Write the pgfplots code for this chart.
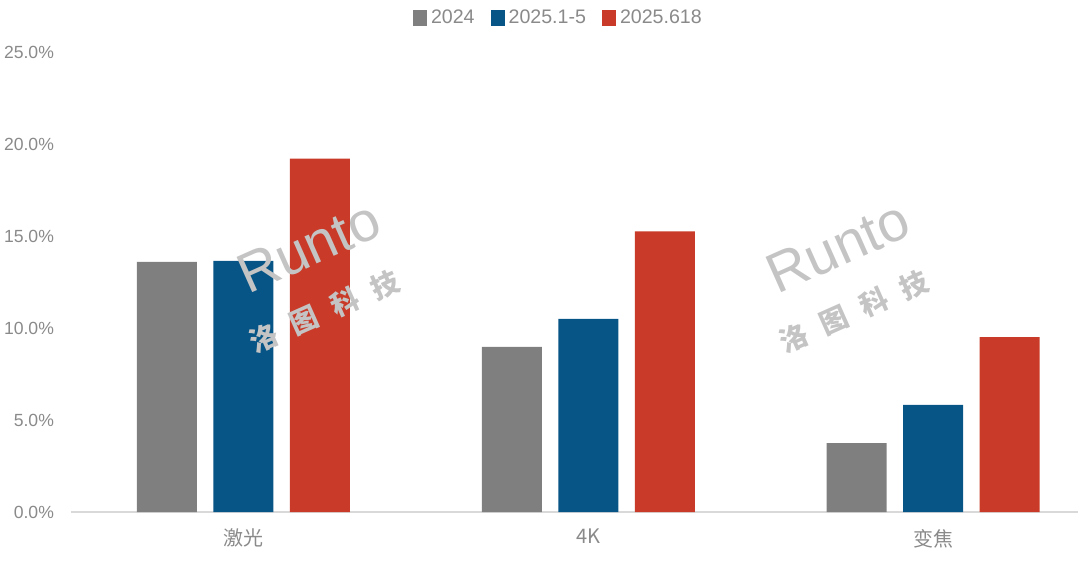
\documentclass[border=0pt]{standalone}
\usepackage{pgfplots}
\pgfplotsset{compat=1.18}
\usepackage{fontspec}
\setmainfont{Liberation Sans}
\newfontfamily\cjk{Noto Sans CJK SC}

\definecolor{cgray}{HTML}{7F7F7F}
\definecolor{cblue}{HTML}{065586}
\definecolor{cred}{HTML}{C93A28}
\definecolor{txt}{HTML}{8A8A8A}
\definecolor{baseln}{HTML}{D9D9D9}
\definecolor{wm}{HTML}{C4C4C4}

\begin{document}
\begin{tikzpicture}
\path[use as bounding box] (-35.5pt,-25.5pt) rectangle (504.5pt,256pt);
\begin{axis}[
    at={(0,0)}, anchor=south west,
    scale only axis, width=503.5pt, height=230pt,
    xmin=-0.5, xmax=2.42, ymin=0, ymax=25,
    ybar=8.25pt, bar width=30pt,
    axis lines*=left,
    y axis line style={draw=none},
    x axis line style={draw=baseln, line width=0.8pt},
    major tick length=0pt,
    ytick={0,5,...,25},
    yticklabel={\pgfmathprintnumber[fixed,fixed zerofill,precision=1]{\tick}\%},
    /pgf/number format/assume math mode=true,
    yticklabel style={font=\fontsize{8.8}{10}\selectfont, text=txt, xshift=-5pt},
    xtick={0,1,2},
    xticklabels={激光,4K,变焦},
    xticklabel style={font=\cjk\fontsize{10}{12}\selectfont, text=txt, yshift=-5pt},
    legend style={at={(0.485,1)}, anchor=center, yshift=17pt, draw=none,
        font=\fontsize{9.8}{11}\selectfont, text=txt,
        /tikz/every even column/.append style={column sep=6pt}},
    legend columns=-1,
    legend image code/.code={\fill[#1,draw=none] (0pt,-4pt) rectangle (7pt,4pt);},
]
\addplot[fill=cgray, draw=none] coordinates {(0,13.6) (1,8.97) (2,3.75)};
\addplot[fill=cblue, draw=none] coordinates {(0,13.65) (1,10.5) (2,5.82)};
\addplot[fill=cred, draw=none] coordinates {(0,19.2) (1,15.25) (2,9.5)};
\legend{2024,2025.1-5,2025.618}

% watermark
\node[rotate=24, text=wm, inner sep=0pt, font=\fontsize{28}{30}\selectfont] at (axis cs:0.19,14.4) {Runto};
\node[rotate=24, text=wm, inner sep=0pt, font=\cjk\bfseries\fontsize{14}{16}\selectfont] at (axis cs:0.235,10.9) {洛\hspace{8pt}图\hspace{8pt}科\hspace{8pt}技};
\node[rotate=24, text=wm, inner sep=0pt, font=\fontsize{28}{30}\selectfont] at (axis cs:1.725,14.4) {Runto};
\node[rotate=24, text=wm, inner sep=0pt, font=\cjk\bfseries\fontsize{14}{16}\selectfont] at (axis cs:1.77,10.9) {洛\hspace{8pt}图\hspace{8pt}科\hspace{8pt}技};
\end{axis}
\end{tikzpicture}
\end{document}
